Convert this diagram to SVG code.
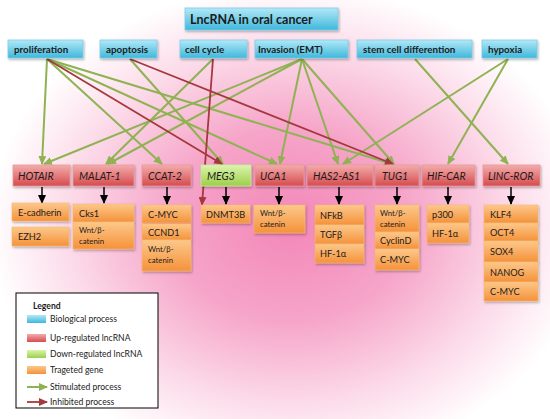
<svg xmlns="http://www.w3.org/2000/svg" width="550" height="419" viewBox="0 0 550 419">
<defs>
<radialGradient id="bg" cx="290" cy="225" r="300" gradientUnits="userSpaceOnUse" gradientTransform="translate(290 225) scale(1 0.8) translate(-290 -225)">
<stop offset="0" stop-color="#f387b8"/>
<stop offset="0.4" stop-color="#f6a5c9"/>
<stop offset="0.75" stop-color="#fcdcea"/>
<stop offset="1" stop-color="#ffffff"/>
</radialGradient>
<linearGradient id="gBlue" x1="0" y1="0" x2="0" y2="1">
<stop offset="0" stop-color="#b3e8f6"/>
<stop offset="1" stop-color="#3fb8dc"/>
</linearGradient>
<linearGradient id="gRed" x1="0" y1="0" x2="0" y2="1">
<stop offset="0" stop-color="#f3acac"/>
<stop offset="1" stop-color="#d64b4e"/>
</linearGradient>
<linearGradient id="gGreen" x1="0" y1="0" x2="0" y2="1">
<stop offset="0" stop-color="#dcf4ad"/>
<stop offset="1" stop-color="#9ccf4a"/>
</linearGradient>
<linearGradient id="gOrange" x1="0" y1="0" x2="0" y2="1">
<stop offset="0" stop-color="#fcc88a"/>
<stop offset="1" stop-color="#f5923a"/>
</linearGradient>
<filter id="sh" x="-10%" y="-20%" width="130%" height="160%">
<feDropShadow dx="1" dy="1.5" stdDeviation="0.8" flood-color="#000" flood-opacity="0.3"/>
</filter>
<marker id="ag" markerUnits="userSpaceOnUse" markerWidth="9" markerHeight="8" refX="8" refY="4" orient="auto">
<path d="M0,0 L9,4 L0,8 z" fill="#8fb253"/>
</marker>
<marker id="ar" markerUnits="userSpaceOnUse" markerWidth="9" markerHeight="8" refX="8" refY="4" orient="auto">
<path d="M0,0 L9,4 L0,8 z" fill="#a5383d"/>
</marker>
<marker id="ab" markerUnits="userSpaceOnUse" markerWidth="9" markerHeight="8" refX="8" refY="4" orient="auto">
<path d="M0,0 L9,4 L0,8 z" fill="#000"/>
</marker>
<style>
text{font-family:Lato,"Liberation Sans",sans-serif;fill:#1b1b1b}
.proc rect{fill:url(#gBlue);stroke:#7ccde8;stroke-width:0.8;filter:url(#sh)}
.proc text{font-weight:bold;font-size:9.8px}
.up rect{fill:url(#gRed);stroke:#e89a9a;stroke-width:0.8;filter:url(#sh)}
.down rect{fill:url(#gGreen);stroke:#c9e89a;stroke-width:0.8;filter:url(#sh)}
.lnc text{font-style:italic;font-size:10.5px}
.gene rect{fill:url(#gOrange);stroke:#f7b772;stroke-width:0.6;filter:url(#sh)}
.gene text{font-size:9.2px}
.gene text.s{font-size:7.8px}
.cg{stroke:#8fb253;stroke-width:2;fill:none;marker-end:url(#ag)}
.cr{stroke:#a5383d;stroke-width:1.8;fill:none;marker-end:url(#ar)}
.cb{stroke:#000;stroke-width:1.5;fill:none;marker-end:url(#ab)}
.leg text{font-size:8.6px}
</style>
</defs>
<rect x="0" y="0" width="550" height="419" fill="#fff"/>
<rect x="0" y="0" width="550" height="419" fill="url(#bg)"/>

<g id="title" class="proc">
<rect x="185" y="8" width="153" height="22"/>
<text x="190" y="23.5" style="font-size:12.5px">LncRNA in oral cancer</text>
</g>

<g id="connectors">
<line class="cg" x1="47" y1="59" x2="42" y2="164"/>
<line class="cg" x1="47" y1="59" x2="162" y2="164"/>
<line class="cg" x1="47" y1="59" x2="277" y2="164"/>
<line class="cg" x1="47" y1="59" x2="392" y2="164"/>
<line class="cg" x1="130" y1="59" x2="223" y2="164"/>
<line class="cg" x1="213" y1="59" x2="106" y2="164"/>
<line class="cg" x1="302" y1="59" x2="44" y2="164"/>
<line class="cg" x1="302" y1="59" x2="108" y2="164"/>
<line class="cg" x1="302" y1="59" x2="280" y2="164"/>
<line class="cg" x1="302" y1="59" x2="338" y2="164"/>
<line class="cg" x1="302" y1="59" x2="394" y2="164"/>
<line class="cg" x1="415" y1="59" x2="508" y2="164"/>
<line class="cg" x1="508" y1="59" x2="343" y2="164"/>
<line class="cg" x1="508" y1="59" x2="448" y2="164"/>
<line class="cr" x1="47" y1="59" x2="222" y2="164"/>
<line class="cr" x1="130" y1="59" x2="393" y2="164"/>
<line class="cr" x1="213" y1="59" x2="202" y2="205"/>
<line class="cb" x1="42" y1="187" x2="42" y2="203"/>
<line class="cb" x1="104" y1="187" x2="104" y2="203"/>
<line class="cb" x1="167" y1="187" x2="167" y2="204"/>
<line class="cb" x1="226" y1="187" x2="226" y2="204"/>
<line class="cb" x1="279" y1="187" x2="279" y2="204"/>
<line class="cb" x1="339" y1="187" x2="339" y2="204"/>
<line class="cb" x1="397" y1="187" x2="397" y2="204"/>
<line class="cb" x1="448" y1="187" x2="448" y2="204"/>
<line class="cb" x1="511" y1="187" x2="511" y2="204"/>
</g>

<g id="proliferation" class="proc"><rect x="8" y="40" width="75" height="18"/><text x="14" y="52.5">proliferation</text></g>
<g id="apoptosis" class="proc"><rect x="100" y="40" width="57" height="18"/><text x="106" y="52.5">apoptosis</text></g>
<g id="cellcycle" class="proc"><rect x="180" y="40" width="67" height="18"/><text x="185" y="52.5">cell cycle</text></g>
<g id="invasion" class="proc"><rect x="255" y="40" width="93" height="18"/><text x="258" y="52.5">Invasion (EMT)</text></g>
<g id="stemcell" class="proc"><rect x="357" y="40" width="115" height="18"/><text x="363" y="52.5">stem cell differention</text></g>
<g id="hypoxia" class="proc"><rect x="482" y="40" width="55" height="18"/><text x="488" y="52.5">hypoxia</text></g>

<g id="HOTAIR" class="lnc up"><rect x="13" y="165" width="57" height="21"/><text x="18" y="179.5">HOTAIR</text></g>
<g id="MALAT-1" class="lnc up"><rect x="73" y="165" width="61" height="21"/><text x="79" y="179.5">MALAT-1</text></g>
<g id="CCAT-2" class="lnc up"><rect x="142" y="165" width="49" height="21"/><text x="148" y="179.5">CCAT-2</text></g>
<g id="MEG3" class="lnc down"><rect x="201" y="165" width="50" height="21"/><text x="207" y="179.5">MEG3</text></g>
<g id="UCA1" class="lnc up"><rect x="255" y="165" width="49" height="21"/><text x="260" y="179.5">UCA1</text></g>
<g id="HAS2-AS1" class="lnc up"><rect x="307" y="165" width="66" height="21"/><text x="313" y="179.5">HAS2-AS1</text></g>
<g id="TUG1" class="lnc up"><rect x="375" y="165" width="44" height="21"/><text x="382" y="179.5">TUG1</text></g>
<g id="HIF-CAR" class="lnc up"><rect x="422" y="165" width="53" height="21"/><text x="427" y="179.5">HIF-CAR</text></g>
<g id="LINC-ROR" class="lnc up"><rect x="483" y="165" width="57" height="21"/><text x="488" y="179.5">LINC-ROR</text></g>

<g id="genes-HOTAIR" class="gene">
<rect x="12" y="203" width="57" height="18"/><text x="18" y="215.5">E-cadherin</text>
<rect x="12" y="227" width="57" height="19"/><text x="18" y="240">EZH2</text>
</g>
<g id="genes-MALAT-1" class="gene">
<rect x="73" y="204" width="61" height="18"/><text x="79" y="216.5">Cks1</text>
<rect x="73" y="222" width="61" height="27"/><text class="s" x="79" y="233">Wnt/β-</text><text class="s" x="79" y="243.5">catenin</text>
</g>
<g id="genes-CCAT-2" class="gene">
<rect x="142" y="205" width="49" height="18"/><text x="148" y="217.5">C-MYC</text>
<rect x="142" y="224" width="49" height="16"/><text x="148" y="235.5">CCND1</text>
<rect x="142" y="240" width="49" height="31"/><text class="s" x="148" y="252">Wnt/β-</text><text class="s" x="148" y="263">catenin</text>
</g>
<g id="genes-MEG3" class="gene">
<rect x="201" y="205" width="49" height="18"/><text x="206" y="217.5">DNMT3B</text>
</g>
<g id="genes-UCA1" class="gene">
<rect x="254" y="205" width="51" height="28"/><text class="s" x="260" y="216">Wnt/β-</text><text class="s" x="260" y="226.5">catenin</text>
</g>
<g id="genes-HAS2-AS1" class="gene">
<rect x="315" y="205" width="49" height="20"/><text x="320" y="218.5">NFkB</text>
<rect x="315" y="225" width="49" height="19"/><text x="320" y="238">TGFβ</text>
<rect x="315" y="244" width="49" height="19"/><text x="320" y="257">HF-1α</text>
</g>
<g id="genes-TUG1" class="gene">
<rect x="375" y="205" width="44" height="27"/><text class="s" x="380" y="216">Wnt/β-</text><text class="s" x="380" y="226.5">catenin</text>
<rect x="375" y="232" width="44" height="17"/><text x="380" y="244">CyclinD</text>
<rect x="375" y="249" width="44" height="21"/><text x="380" y="262.5">C-MYC</text>
</g>
<g id="genes-HIF-CAR" class="gene">
<rect x="427" y="205" width="42" height="18"/><text x="432" y="217.5">p300</text>
<rect x="427" y="223" width="42" height="20"/><text x="432" y="236.5">HF-1α</text>
</g>
<g id="genes-LINC-ROR" class="gene">
<rect x="484" y="205" width="54" height="18"/><text x="490" y="217.5">KLF4</text>
<rect x="484" y="223" width="54" height="18"/><text x="490" y="235.5">OCT4</text>
<rect x="484" y="241" width="54" height="21"/><text x="490" y="255">SOX4</text>
<rect x="484" y="262" width="54" height="20"/><text x="490" y="275.5">NANOG</text>
<rect x="484" y="282" width="54" height="19"/><text x="490" y="295">C-MYC</text>
</g>

<g id="legend" class="leg">
<rect x="16" y="293" width="142" height="115" fill="#fff" stroke="#000" stroke-width="1"/>
<text x="33" y="309" style="font-weight:bold">Legend</text>
<rect x="27" y="315" width="19" height="8" fill="url(#gBlue)"/>
<text x="50" y="322">Biological process</text>
<rect x="27" y="334" width="19" height="8" fill="url(#gRed)"/>
<text x="50" y="341">Up-regulated lncRNA</text>
<rect x="27" y="350" width="19" height="8" fill="url(#gGreen)"/>
<text x="50" y="357">Down-regulated lncRNA</text>
<rect x="27" y="366" width="19" height="8" fill="url(#gOrange)"/>
<text x="50" y="373">Trageted gene</text>
<line class="cg" x1="27" y1="387" x2="47" y2="387"/>
<text x="50" y="390">Stimulated process</text>
<line class="cr" x1="27" y1="402" x2="47" y2="402"/>
<text x="50" y="405">Inhibited process</text>
</g>
</svg>
